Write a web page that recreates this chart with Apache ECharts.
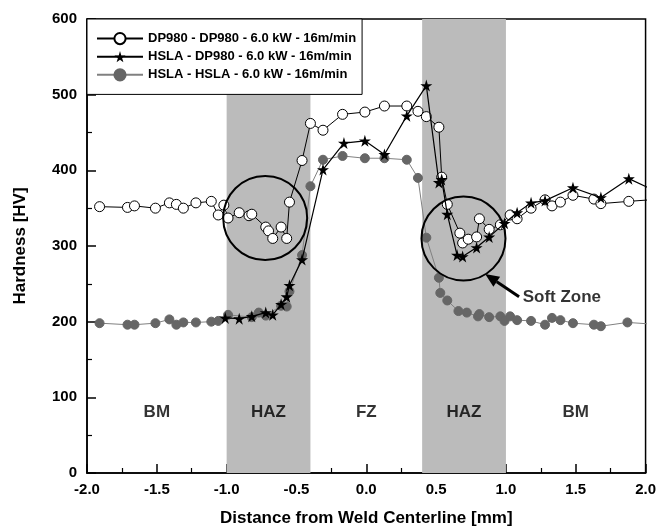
<!DOCTYPE html>
<html>
<head>
<meta charset="utf-8">
<script src="https://cdn.jsdelivr.net/npm/echarts@6/dist/echarts.min.js"></script>
<style>
html,body{margin:0;padding:0;background:#fff;}
#main{width:659px;height:532px;}
</style>
</head>
<body>
<div id="main"></div>
<script>
// hardness profiles across the weld (x in mm, y in HV)
var dpX = [-1.91,-1.71,-1.66,-1.51,-1.41,-1.36,-1.31,-1.22,-1.11,-1.06,-1.02,-0.99,-0.91,-0.84,-0.82,-0.72,-0.70,-0.67,-0.61,-0.57,-0.55,-0.46,-0.40,-0.31,-0.17,-0.01,0.13,0.29,0.37,0.43,0.52,0.54,0.58,0.67,0.69,0.73,0.79,0.81,0.88,0.96,1.03,1.08,1.18,1.28,1.33,1.39,1.48,1.63,1.68,1.88,2.03];
var dpY = [352,351,353,350,357,355,350,357,359,341,354,337,344,340,342,325,320,310,325,310,358,413,462,453,474,477,485,485,478,471,457,391,355,317,304,309,312,336,322,328,341,336,350,361,353,358,367,362,356,359,361];

var mixX = [-1.01,-0.91,-0.82,-0.72,-0.67,-0.61,-0.57,-0.55,-0.46,-0.31,-0.16,-0.01,0.13,0.29,0.43,0.52,0.54,0.58,0.65,0.69,0.79,0.88,0.99,1.08,1.18,1.28,1.48,1.68,1.88,2.03];
var mixY = [205,204,207,212,209,223,233,248,282,401,436,439,421,472,512,384,388,342,288,286,298,312,330,344,357,360,377,364,389,376];

var hsX = [-1.91,-1.71,-1.66,-1.51,-1.41,-1.36,-1.31,-1.22,-1.11,-1.06,-0.99,-0.82,-0.77,-0.72,-0.61,-0.57,-0.55,-0.46,-0.40,-0.31,-0.17,-0.01,0.13,0.29,0.37,0.43,0.52,0.53,0.58,0.66,0.72,0.80,0.81,0.88,0.96,0.99,1.03,1.08,1.18,1.28,1.33,1.39,1.48,1.63,1.68,1.87,2.03];
var hsY = [198,196,196,198,203,196,199,199,200,201,209,206,212,208,221,220,240,288,379,414,419,416,416,414,390,311,258,238,228,214,212,207,210,206,207,201,207,202,201,196,205,202,198,196,194,199,197];

var seriesNames = ['DP980 - DP980 - 6.0 kW - 16m/min','HSLA - DP980 - 6.0 kW - 16m/min','HSLA - HSLA - 6.0 kW - 16m/min'];

// zones
var bands = [[-1.0,-0.4],[0.4,1.0]];
var zoneNames = ['BM','HAZ','FZ','HAZ','BM'];
var zoneX = [-1.5,-0.7,0,0.7,1.5];
var zoneY = 80;

// soft zone annotation
var softCircles = [[-0.724,337],[0.696,310]];
var arrowFrom = [1.094,233];
var arrowTo = [0.851,263];
var softLabel = [1.12,232];

function pairs(xs, ys){
	var out = [];
	for(var i=0;i<xs.length;i++){ out.push([xs[i], ys[i]]); }
	return out;
}

var FONT = '"Liberation Sans", Arial, sans-serif';
var STAR = 'path://M50,0 L61,35 L98,35 L68,57 L79,91 L50,70 L21,91 L32,57 L2,35 L39,35 Z';

var myChart = echarts.init(document.getElementById('main'));

var option = {
	animation: false,
	backgroundColor: '#fff',
	grid: {
		left: 87, right: 12, top: 19, bottom: 59,
		show: true, borderColor: '#000', borderWidth: 1.5, backgroundColor: 'transparent'
	},
	legend: {
		data: seriesNames,
		orient: 'vertical',
		left: 87, top: 19,
		padding: [13, 6, 13, 9],
		itemWidth: 46, itemHeight: 14, itemGap: 5,
		backgroundColor: '#fff',
		borderColor: '#000', borderWidth: 1,
		textStyle: {fontFamily: FONT, fontWeight: 'bold', fontSize: 13, color: '#000'},
		z: 20
	},
	xAxis: {
		type: 'value', min: -2, max: 2, interval: 0.5,
		name: 'Distance from Weld Centerline [mm]',
		nameLocation: 'middle', nameGap: 37,
		nameTextStyle: {fontFamily: FONT, fontWeight: 'bold', fontSize: 17, color: '#000'},
		axisLine: {onZero: false, lineStyle: {color: '#000', width: 1.5}},
		axisTick: {inside: true, length: 9, lineStyle: {color: '#000', width: 1.5}},
		minorTick: {show: true, splitNumber: 2, length: 5, lineStyle: {color: '#000', width: 1.2}},
		splitLine: {show: false},
		axisLabel: {
			fontFamily: FONT, fontWeight: 'bold', fontSize: 15, color: '#000', margin: 9,
			formatter: function(v){ return v.toFixed(1); }
		}
	},
	yAxis: {
		type: 'value', min: 0, max: 600, interval: 100,
		name: 'Hardness [HV]',
		nameLocation: 'middle', nameGap: 58,
		nameTextStyle: {fontFamily: FONT, fontWeight: 'bold', fontSize: 17, color: '#000'},
		axisLine: {onZero: false, lineStyle: {color: '#000', width: 1.5}},
		axisTick: {inside: true, length: 9, lineStyle: {color: '#000', width: 1.5}},
		minorTick: {show: true, splitNumber: 2, length: 5, lineStyle: {color: '#000', width: 1.2}},
		splitLine: {show: false},
		axisLabel: {fontFamily: FONT, fontWeight: 'bold', fontSize: 15, color: '#000', margin: 10}
	},
	series: [
		{
			name: seriesNames[2], type: 'line', z: 2,
			data: pairs(hsX, hsY),
			symbol: 'circle', symbolSize: 9,
			lineStyle: {color: '#808080', width: 1},
			itemStyle: {color: '#666', borderColor: '#666', borderWidth: 1},
			markArea: {
				silent: true,
				itemStyle: {color: '#bbbbbb'},
				data: bands.map(function(b){ return [{xAxis: b[0], yAxis: 0}, {xAxis: b[1], yAxis: 600}]; })
			}
		},
		{
			name: seriesNames[0], type: 'line', z: 3,
			data: pairs(dpX, dpY),
			symbol: 'circle', symbolSize: 10,
			lineStyle: {color: '#000', width: 1},
			itemStyle: {color: '#fff', borderColor: '#000', borderWidth: 1}
		},
		{
			name: seriesNames[1], type: 'line', z: 4,
			data: pairs(mixX, mixY),
			symbol: STAR, symbolSize: 12,
			lineStyle: {color: '#000', width: 1.2},
			itemStyle: {color: '#000', borderColor: '#000', borderWidth: 0}
		},
		{
			name: 'zones', type: 'scatter', z: 5, silent: true,
			symbolSize: 0,
			data: zoneNames.map(function(n, i){ return {name: n, value: [zoneX[i], zoneY]}; }),
			label: {
				show: true, position: 'inside', formatter: '{b}',
				fontFamily: FONT, fontWeight: 'bold', fontSize: 17, color: '#000'
			}
		},
		{
			name: 'soft', type: 'custom', z: 6, silent: true,
			data: softCircles,
			renderItem: function(params, api){
				var c = api.coord([api.value(0), api.value(1)]);
				return {
					type: 'circle',
					shape: {cx: c[0], cy: c[1], r: 42},
					style: {fill: null, stroke: '#000', lineWidth: 2}
				};
			}
		},
		{
			name: 'arrow', type: 'custom', z: 6, silent: true,
			data: [[arrowFrom[0], arrowFrom[1], arrowTo[0], arrowTo[1]]],
			renderItem: function(params, api){
				var a = api.coord([api.value(0), api.value(1)]);
				var b = api.coord([api.value(2), api.value(3)]);
				var dx = b[0]-a[0], dy = b[1]-a[1];
				var len = Math.sqrt(dx*dx+dy*dy);
				var ux = dx/len, uy = dy/len;
				var hl = 14, hw = 6;
				var bx = b[0]-ux*hl, by = b[1]-uy*hl;
				return {
					type: 'group',
					children: [{
						type: 'line',
						shape: {x1: a[0], y1: a[1], x2: bx, y2: by},
						style: {stroke: '#000', lineWidth: 3}
					}, {
						type: 'polygon',
						shape: {points: [[b[0], b[1]], [bx - uy*hw, by + ux*hw], [bx + uy*hw, by - ux*hw]]},
						style: {fill: '#000'}
					}]
				};
			}
		},
		{
			name: 'softLabel', type: 'scatter', z: 6, silent: true,
			symbolSize: 0,
			data: [{name: 'Soft Zone', value: softLabel}],
			label: {
				show: true, position: 'right', distance: 0, formatter: '{b}',
				fontFamily: FONT, fontWeight: 'bold', fontSize: 17, color: '#000'
			}
		}
	]
};
myChart.setOption(option);
</script>
</body>
</html>
